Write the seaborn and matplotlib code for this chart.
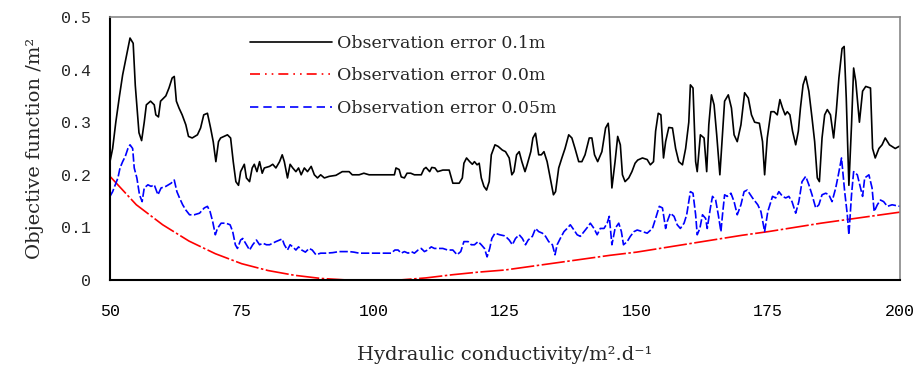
import numpy as np
import pandas as pd
import seaborn as sns
from matplotlib import pyplot as plt

# Observation error 0.1 m (black)
x_err_010 = [
    50.0, 50.5, 51.1, 51.8, 52.4, 53.0, 53.8, 54.4, 54.8, 55.2, 55.5, 56.0, 56.5, 56.9, 57.7, 58.4,
    58.7, 59.2, 59.6, 60.6, 61.2, 61.8, 62.2, 62.6, 63.1, 63.7, 64.4, 64.9, 65.6, 66.6, 67.2, 67.8,
    68.5, 69.1, 69.6, 70.1, 70.6, 71.0, 72.3, 72.9, 73.4, 73.9, 74.4, 74.8, 75.5, 75.9, 76.5, 77.0,
    77.4, 77.9, 78.4, 78.9, 79.3, 80.3, 80.9, 81.5, 82.2, 82.7, 83.1, 83.7, 84.2, 84.7, 85.3, 85.8,
    86.3, 86.9, 87.5, 88.2, 88.8, 89.4, 90.0, 90.7, 91.6, 92.9, 94.1, 95.4, 96.0, 97.3, 98.2, 99.2,
    104.0, 104.3, 104.9, 105.3, 105.9, 106.4, 107.1, 107.8, 109.1, 109.6, 110.0, 110.7, 111.1, 111.7,
    112.2, 113.2, 114.4, 115.1, 116.3, 116.9, 117.2, 117.7, 118.3, 118.8, 119.2, 119.7, 120.1, 120.5,
    121.0, 121.5, 122.0, 122.4, 123.1, 123.7, 124.5, 125.1, 125.8, 126.3, 126.7, 127.2, 127.7, 128.2,
    128.8, 129.2, 129.9, 130.3, 130.8, 131.4, 131.9, 132.4, 133.0, 133.6, 134.2, 134.6, 135.2, 135.8,
    136.4, 137.1, 137.7, 138.3, 139.0, 139.6, 140.2, 141.0, 141.5, 142.0, 142.6, 143.4, 144.1, 144.6,
    144.8, 145.3, 145.9, 146.4, 146.9, 147.3, 147.8, 148.5, 149.1, 149.7, 150.2, 151.1, 152.0, 152.6,
    153.2, 153.6, 154.1, 154.6, 155.1, 155.5, 156.1, 156.8, 157.4, 158.0, 158.7, 159.3, 159.9, 160.2,
    160.7, 161.2, 161.5, 162.1, 162.8, 163.3, 163.7, 164.2, 164.7, 165.2, 165.8, 166.3, 166.7, 167.4,
    168.0, 168.5, 169.1, 169.8, 170.5, 171.2, 171.8, 172.4, 173.3, 173.9, 174.3, 174.8, 175.5, 176.1,
    176.7, 177.2, 177.7, 178.2, 178.6, 179.1, 179.6, 180.2, 180.7, 181.1, 181.6, 182.1, 182.7, 183.3,
    183.8, 184.3, 184.7, 185.2, 185.7, 186.2, 186.8, 187.4, 187.9, 188.4, 189.0, 189.4, 189.8, 190.3,
    190.8, 191.2, 191.6, 192.3, 192.9, 193.5, 194.4, 194.8, 195.3, 196.0, 196.6, 197.2, 198.0, 199.1,
    200.0,
]
y_err_010 = [
    0.225, 0.25, 0.30, 0.35, 0.39, 0.42, 0.46, 0.45, 0.37, 0.32, 0.28, 0.265, 0.30, 0.333, 0.34, 0.333,
    0.314, 0.31, 0.34, 0.35, 0.365, 0.384, 0.387, 0.34, 0.327, 0.314, 0.295, 0.273, 0.27, 0.276, 0.289, 0.314,
    0.317, 0.289, 0.263, 0.225, 0.263, 0.27, 0.276, 0.27, 0.225, 0.187, 0.18, 0.206, 0.22, 0.194, 0.187, 0.213,
    0.22, 0.206, 0.225, 0.203, 0.213, 0.216, 0.22, 0.213, 0.225, 0.238, 0.225, 0.194, 0.22, 0.213, 0.206, 0.213,
    0.2, 0.213, 0.206, 0.216, 0.2, 0.194, 0.2, 0.194, 0.197, 0.199, 0.206, 0.206, 0.2, 0.2, 0.203, 0.2,
    0.2, 0.213, 0.21, 0.196, 0.194, 0.203, 0.203, 0.2, 0.2, 0.211, 0.214, 0.206, 0.214, 0.213,
    0.206, 0.209, 0.209, 0.184, 0.184, 0.194, 0.222, 0.232, 0.225, 0.22, 0.225, 0.219, 0.222, 0.194,
    0.178, 0.171, 0.187, 0.238, 0.257, 0.254, 0.247, 0.244, 0.232, 0.2, 0.206, 0.238, 0.244, 0.225,
    0.206, 0.219, 0.244, 0.27, 0.279, 0.238, 0.238, 0.244, 0.225, 0.194, 0.162, 0.168, 0.213, 0.232,
    0.25, 0.276, 0.27, 0.25, 0.225, 0.225, 0.238, 0.27, 0.27, 0.238, 0.225, 0.244, 0.289, 0.298,
    0.276, 0.175, 0.225, 0.273, 0.257, 0.2, 0.187, 0.194, 0.206, 0.222, 0.228, 0.232, 0.229, 0.219,
    0.225, 0.283, 0.317, 0.314, 0.232, 0.263, 0.29, 0.289, 0.25, 0.225, 0.219, 0.25, 0.3, 0.371,
    0.365, 0.225, 0.206, 0.276, 0.27, 0.206, 0.295, 0.352, 0.333, 0.276, 0.2, 0.276, 0.34, 0.352,
    0.327, 0.276, 0.263, 0.295, 0.356, 0.346, 0.314, 0.3, 0.298, 0.263, 0.2, 0.27, 0.32, 0.32,
    0.314, 0.343, 0.327, 0.314, 0.32, 0.314, 0.283, 0.257, 0.283, 0.327, 0.371, 0.387, 0.359, 0.308,
    0.263, 0.194, 0.187, 0.27, 0.314, 0.324, 0.314, 0.27, 0.32, 0.384, 0.44, 0.444, 0.346, 0.18,
    0.295, 0.403, 0.378, 0.30, 0.359, 0.368, 0.365, 0.25, 0.232, 0.25, 0.257, 0.27, 0.257, 0.25,
    0.255,
]

# Observation error 0.0 m (red)
x_err_000 = [50, 55, 60, 65, 70, 75, 80, 85, 90, 95, 100, 105, 110, 115, 120, 125,
             130, 135, 140, 145, 150, 155, 160, 165, 170, 175, 180, 185, 190, 195, 200]
y_err_000 = [0.197, 0.143, 0.105, 0.074, 0.05, 0.031, 0.018, 0.009, 0.003, 0.0, 0.0, 0.0, 0.004,
             0.01, 0.015, 0.019, 0.026, 0.033, 0.04, 0.047, 0.053, 0.061, 0.069, 0.077, 0.085,
             0.092, 0.1, 0.108, 0.115, 0.122, 0.129]

# Observation error 0.05 m (blue)
x_err_005 = [
    50.0, 50.5, 51.0, 51.5, 51.9, 52.4, 52.9, 53.4, 53.8, 54.3, 54.6, 55.1, 55.6, 56.1, 56.5, 57.2,
    57.8, 58.4, 59.1, 59.7, 60.6, 61.6, 62.2, 62.7, 63.2, 63.8, 64.4, 65.1, 66.0, 67.0, 67.9, 68.5,
    69.0, 69.5, 70.0, 70.4, 71.1, 72.0, 72.8, 73.3, 73.8, 74.2, 74.8, 75.2, 75.9, 76.5, 77.1, 77.8,
    78.4, 79.0, 79.7, 80.3, 80.9, 81.5, 82.2, 82.7, 83.1, 83.7, 84.2, 84.7, 85.3, 85.8, 86.4, 87.1,
    87.8, 88.4, 89.1, 90.0, 91.0, 92.3, 93.5, 95.4, 96.3, 97.3, 99.2, 103.4, 104.1, 104.7, 105.3, 105.9,
    106.6, 107.2, 107.8, 108.5, 109.1, 109.7, 110.3, 111.0, 111.6, 112.2, 113.2, 114.1, 115.1, 115.9,
    116.6, 117.2, 118.0, 118.6, 119.2, 119.9, 120.5, 121.1, 121.6, 122.1, 122.5, 123.1, 124.0, 124.9,
    125.1, 125.8, 126.4, 127.0, 127.7, 128.3, 128.9, 129.4, 130.2, 130.8, 131.4, 132.1, 132.7, 133.3,
    134.0, 134.5, 134.9, 135.5, 136.2, 136.8, 137.4, 138.1, 138.7, 139.3, 140.0, 140.8, 141.2, 141.9,
    142.5, 143.1, 143.8, 144.4, 144.8, 145.3, 145.9, 146.6, 147.1, 147.5, 148.2, 148.8, 149.5, 150.1,
    151.1, 152.0, 153.0, 153.6, 154.3, 154.9, 155.5, 155.8, 156.4, 157.1, 157.7, 158.3, 159.0, 159.5,
    159.9, 160.2, 160.7, 161.2, 161.5, 162.0, 162.5, 163.1, 163.4, 164.0, 164.4, 165.0, 165.5, 166.0,
    166.3, 166.7, 167.2, 167.9, 168.5, 169.1, 169.8, 170.4, 171.0, 172.0, 173.0, 173.6, 174.3, 174.9,
    175.8, 176.4, 177.0, 177.7, 178.3, 178.9, 179.5, 180.2, 180.8, 181.4, 182.1, 182.7, 183.3, 184.0,
    184.6, 185.2, 185.9, 186.5, 187.1, 187.8, 188.3, 188.9, 189.5, 190.0, 190.3, 190.8, 191.2, 191.9,
    192.5, 192.9, 193.3, 194.1, 194.7, 195.1, 195.7, 196.3, 196.9, 197.6, 198.5, 200.0,
]
y_err_005 = [
    0.159, 0.168, 0.181, 0.194, 0.213, 0.225, 0.235, 0.25, 0.257, 0.25, 0.213, 0.194, 0.162, 0.149, 0.175, 0.181,
    0.178, 0.181, 0.162, 0.175, 0.178, 0.184, 0.19, 0.168, 0.156, 0.143, 0.133, 0.124, 0.124, 0.127, 0.137, 0.14,
    0.13, 0.111, 0.086, 0.098, 0.108, 0.108, 0.105, 0.092, 0.067, 0.06, 0.076, 0.079, 0.067, 0.057, 0.067, 0.076,
    0.067, 0.07, 0.067, 0.067, 0.07, 0.073, 0.076, 0.078, 0.067, 0.057, 0.067, 0.063, 0.057, 0.063, 0.057, 0.053,
    0.06, 0.057, 0.048, 0.051, 0.051, 0.052, 0.054, 0.054, 0.053, 0.051, 0.051, 0.051, 0.057, 0.057, 0.051, 0.054,
    0.051, 0.054, 0.051, 0.057, 0.06, 0.054, 0.057, 0.063, 0.06, 0.06, 0.06, 0.057, 0.057, 0.048,
    0.054, 0.073, 0.073, 0.067, 0.067, 0.073, 0.067, 0.06, 0.044, 0.06, 0.079, 0.089, 0.086, 0.084,
    0.083, 0.076, 0.067, 0.079, 0.086, 0.079, 0.067, 0.076, 0.083, 0.098, 0.092, 0.089, 0.083, 0.073,
    0.067, 0.048, 0.067, 0.079, 0.092, 0.098, 0.105, 0.095, 0.086, 0.083, 0.092, 0.102, 0.108, 0.098,
    0.086, 0.098, 0.098, 0.108, 0.121, 0.067, 0.098, 0.108, 0.092, 0.067, 0.073, 0.083, 0.092, 0.095,
    0.092, 0.089, 0.098, 0.117, 0.14, 0.137, 0.098, 0.111, 0.127, 0.121, 0.105, 0.098, 0.108, 0.124,
    0.149, 0.168, 0.165, 0.124, 0.086, 0.098, 0.124, 0.117, 0.098, 0.137, 0.159, 0.152, 0.124, 0.092,
    0.124, 0.162, 0.159, 0.165, 0.149, 0.124, 0.143, 0.168, 0.171, 0.156, 0.143, 0.13, 0.092, 0.13,
    0.159, 0.156, 0.168, 0.159, 0.156, 0.159, 0.149, 0.127, 0.149, 0.187, 0.197, 0.181, 0.162, 0.137,
    0.143, 0.162, 0.165, 0.162, 0.149, 0.175, 0.2, 0.232, 0.168, 0.124, 0.086, 0.162, 0.206, 0.2,
    0.175, 0.159, 0.194, 0.2, 0.175, 0.13, 0.143, 0.152, 0.149, 0.14, 0.143, 0.14,
]

labels = ["Observation error 0.1m", "Observation error 0.0m", "Observation error 0.05m"]
x_ticks = [50, 75, 100, 125, 150, 175, 200]
y_ticks = [0, 0.1, 0.2, 0.3, 0.4, 0.5]

data = pd.concat(
    [
        pd.DataFrame({"k": x_err_010, "obj": y_err_010, "series": labels[0]}),
        pd.DataFrame({"k": x_err_000, "obj": y_err_000, "series": labels[1]}),
        pd.DataFrame({"k": x_err_005, "obj": y_err_005, "series": labels[2]}),
    ],
    ignore_index=True,
)

sns.set_theme(style="white")
plt.rcParams["font.family"] = ["DejaVu Serif"]

fig = plt.figure(figsize=(9.19, 3.77), dpi=100)
ax = fig.add_axes([0.1197, 0.2573, 0.8596, 0.6976])

sns.lineplot(
    data=data,
    x="k",
    y="obj",
    hue="series",
    style="series",
    hue_order=labels,
    style_order=labels,
    palette={labels[0]: "#000000", labels[1]: "#ff0000", labels[2]: "#0000ff"},
    dashes={labels[0]: "", labels[1]: (14, 1.5, 1.5, 1.5), labels[2]: (5, 1.5)},
    estimator=None,
    sort=False,
    linewidth=1.2,
    ax=ax,
)

ax.set_xlim(50, 200)
ax.set_ylim(0, 0.5)
ax.set_xticks(x_ticks)
ax.set_yticks(y_ticks)
ax.set_xticklabels([str(v) for v in x_ticks], family="Liberation Mono", fontsize=12)
ax.set_yticklabels(["0" if v == 0 else f"{v:.1f}" for v in y_ticks], family="Liberation Mono", fontsize=12)
ax.tick_params(axis="x", direction="in", length=4, width=1, pad=17, colors="black")
ax.tick_params(axis="y", length=0, pad=14)

ax.set_xlabel("Hydraulic conductivity/m².d⁻¹", fontsize=14, labelpad=20)
ax.set_ylabel("Objective function /m²", fontsize=14, labelpad=12)

for side in ["left", "bottom"]:
    ax.spines[side].set_color("black")
    ax.spines[side].set_linewidth(1.5)
for side in ["top", "right"]:
    ax.spines[side].set_color("#888888")
    ax.spines[side].set_linewidth(1.2)

handles, _ = ax.get_legend_handles_labels()
handles[1].set_dashes((6, 3, 1, 3, 1, 3))
handles[2].set_dashes((5, 3))
ax.legend(
    handles,
    labels,
    loc="upper left",
    bbox_to_anchor=(0.272, 0.908),
    bbox_transform=fig.transFigure,
    frameon=False,
    fontsize=12.5,
    handlelength=4.7,
    handletextpad=0.3,
    labelspacing=0.9,
    borderpad=0,
    borderaxespad=0,
)

plt.savefig("out.png", dpi=100)
